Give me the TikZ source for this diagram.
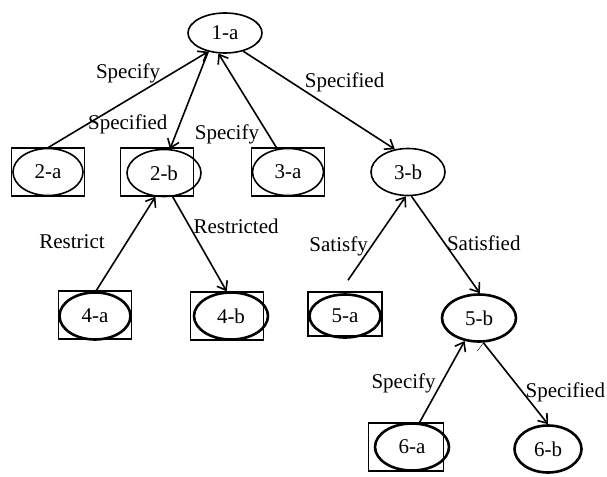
\documentclass[tikz,border=0pt]{standalone}
\usepackage{fontspec}
\setmainfont{Liberation Serif}
\usetikzlibrary{shapes.geometric, positioning, arrows.meta}
\tikzset{
    ->,
    >={Straight Barb[length=8pt, width=12pt]},
    node distance=139pt,
    goal/.style={draw, ellipse, inner sep=0pt, line width=1.6pt,
                 minimum width=74pt, minimum height=47pt},
    bold goal/.style={goal, line width=2.6pt},
    tagbox/.style={draw, rectangle, inner sep=0pt, line width=1.2pt,
                   minimum width=73pt, minimum height=48pt},
    every edge/.style={draw, line width=1.6pt},
}

\begin{document}
\begin{tikzpicture}[font=\fontsize{21}{25}\selectfont, x=1pt, y=1pt]
        \useasboundingbox (0,0) rectangle (607,-476);

        \node[goal, minimum height=40pt] (n1a) at (225,-33) {1-a};
        \node[goal, below of=n1a, xshift=-177pt, minimum width=70pt] (n2a) {2-a};
        \node[goal, below of=n1a, xshift=-61pt, yshift=-1pt] (n2b) {2-b};
        \node[goal, below of=n1a, xshift=63pt, minimum width=71pt] (n3a) {3-a};
        \node[goal, below of=n1a, xshift=183pt] (n3b) {3-b};
        \node[bold goal, below of=n2b, xshift=-69pt, yshift=-4pt, minimum width=71pt] (n4a) {4-a};
        \node[bold goal, below of=n2b, xshift=67pt, yshift=-4pt] (n4b) {4-b};
        \node[bold goal, below of=n3b, xshift=-63pt, yshift=-5pt, minimum width=71pt, minimum height=43pt] (n5a) {5-a};
        \node[bold goal, below of=n3b, xshift=71pt, yshift=-7pt] (n5b) {5-b};
        \node[bold goal, below of=n5b, xshift=-67pt, yshift=10pt] (n6a) {6-a};
        \node[bold goal, below of=n5b, xshift=69pt, yshift=8pt, minimum width=67pt] (n6b) {6-b};

        % boxes round the leaves
        \node[tagbox] (box2a) at (n2a) {};
        \node[tagbox, xshift=-7pt, yshift=1pt] (box2b) at (n2b) {};
        \node[tagbox] (box3a) at (n3a) {};
        \node[tagbox, yshift=1pt] (box4a) at (n4a) {};
        \node[tagbox, xshift=-4pt] (box4b) at (n4b) {};
        \node[tagbox, yshift=2pt, minimum width=74pt, minimum height=44pt] (box5a) at (n5a) {};
        \node[tagbox, xshift=-6pt, minimum width=75pt] (box6a) at (n6a) {};

        \coordinate[above=13pt of n5a, xshift=3pt] (s5a);

        \draw (n2a.north) edge node[above=13pt, pos=.5] {Specify} (n1a.228)
              (n1a.228) edge node[left=8pt, pos=.75] {Specified} (n2b.76)
              (n3a.115) edge node[left=4pt, pos=.17, yshift=-2pt] {Specify} (n1a.252)
              (n1a.315) edge node[above right, pos=.38, yshift=-8pt] {Specified} (n3b.120)
              (n4a.88) edge node[left=18pt, pos=.52] {Restrict} (n2b.250)
              (n2b.290) edge node[right, pos=.31] {Restricted} (n4b.100)
              (s5a) edge node[left=1pt, pos=.43, yshift=-2pt] {Satisfy} (n3b.265)
              (n3b.278) edge node[right, pos=.46, yshift=-2pt] {Satisfied} (n5b.88)
              (n6a.73) edge node[left=4pt, pos=.54, yshift=-5pt] {Specify} (n5b.238)
              (n5b.280) edge node[right, pos=.56, xshift=2pt, yshift=-4pt] {Specified} (n6b.90)
              ;
\end{tikzpicture}
\end{document}
